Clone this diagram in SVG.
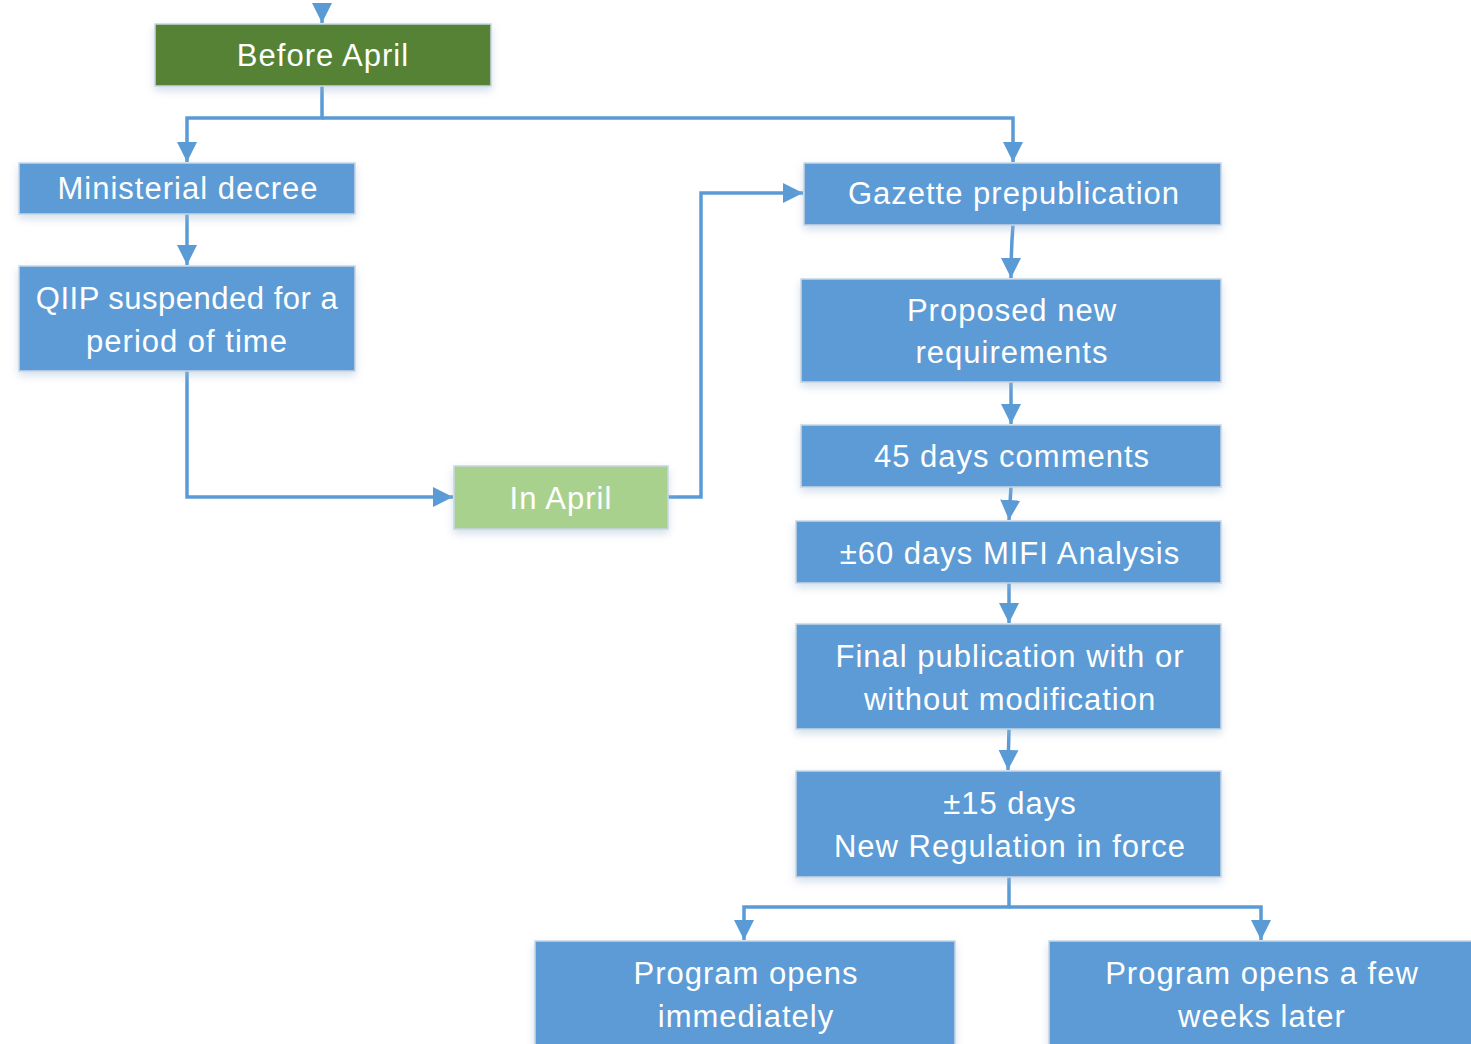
<svg xmlns="http://www.w3.org/2000/svg" width="1471" height="1044" viewBox="0 0 1471 1044">
<defs>
<filter id="sh" x="-10%" y="-20%" width="120%" height="150%">
<feDropShadow dx="0" dy="4" stdDeviation="4" flood-color="#9fb8d6" flood-opacity="0.45"/>
</filter>
<marker id="ah" markerUnits="userSpaceOnUse" markerWidth="22" markerHeight="22" viewBox="0 0 22 22" refX="20" refY="11" orient="auto">
<path d="M0,1 L20,11 L0,21 Z" fill="#5B9BD5"/>
</marker>
</defs>
<style>
.n{fill:#5B9BD5;stroke:#c9d6e3;stroke-width:1.5;filter:url(#sh)}
.g{fill:#548235;stroke:#c9d6e3;stroke-width:1.5;filter:url(#sh)}
.lg{fill:#A9D18E;stroke:#c9d6e3;stroke-width:1.5;filter:url(#sh)}
.t{font-family:"Liberation Sans",Arial,sans-serif;font-size:31px;letter-spacing:1px;fill:#ffffff;text-anchor:middle;dominant-baseline:central}
.c{fill:none;stroke:#5B9BD5;stroke-width:3.5}
</style>
<rect width="1471" height="1044" fill="#ffffff"/>
<g id="connectors">
<path class="c" d="M322,4 L322,23" marker-end="url(#ah)"/>
<path class="c" d="M322,86 L322,118 L187,118 L187,162" marker-end="url(#ah)"/>
<path class="c" d="M322,118 L1013,118 L1013,162" marker-end="url(#ah)"/>
<path class="c" d="M187,214 L187,265" marker-end="url(#ah)"/>
<path class="c" d="M187,371 L187,497 L453,497" marker-end="url(#ah)"/>
<path class="c" d="M668,497 L701,497 L701,193 L803,193" marker-end="url(#ah)"/>
<path class="c" d="M1013,225 Q1011,250 1011,278" marker-end="url(#ah)"/>
<path class="c" d="M1011,382 L1011,424" marker-end="url(#ah)"/>
<path class="c" d="M1011,487 L1009,520" marker-end="url(#ah)"/>
<path class="c" d="M1009,583 L1009,623" marker-end="url(#ah)"/>
<path class="c" d="M1009,729 L1008,770" marker-end="url(#ah)"/>
<path class="c" d="M1009,877 L1009,907 L744,907 L744,940" marker-end="url(#ah)"/>
<path class="c" d="M1009,907 L1261,907 L1261,940" marker-end="url(#ah)"/>
</g>
<g id="before-april"><rect class="g" x="155" y="24" width="336" height="62"/><text class="t" x="323" y="55">Before April</text></g>
<g id="ministerial-decree"><rect class="n" x="19" y="163" width="336" height="51"/><text class="t" x="188" y="188">Ministerial decree</text></g>
<g id="qiip"><rect class="n" x="19" y="266" width="336" height="105"/><text class="t" x="187" y="298" style="letter-spacing:0.5px">QIIP suspended for a</text><text class="t" x="187" y="341">period of time</text></g>
<g id="in-april"><rect class="lg" x="454" y="466" width="214" height="63"/><text class="t" x="561" y="498">In April</text></g>
<g id="gazette"><rect class="n" x="804" y="163" width="417" height="62"/><text class="t" x="1014" y="193">Gazette prepublication</text></g>
<g id="proposed"><rect class="n" x="801" y="279" width="420" height="103"/><text class="t" x="1012" y="310">Proposed new</text><text class="t" x="1012" y="352">requirements</text></g>
<g id="comments"><rect class="n" x="801" y="425" width="420" height="62"/><text class="t" x="1012" y="456">45 days comments</text></g>
<g id="analysis"><rect class="n" x="796" y="521" width="425" height="62"/><text class="t" x="1010" y="553">±60 days MIFI Analysis</text></g>
<g id="final"><rect class="n" x="796" y="624" width="425" height="105"/><text class="t" x="1010" y="656">Final publication with or</text><text class="t" x="1010" y="699">without modification</text></g>
<g id="in-force"><rect class="n" x="796" y="771" width="425" height="106"/><text class="t" x="1010" y="803">±15 days</text><text class="t" x="1010" y="846">New Regulation in force</text></g>
<g id="opens-immediately"><rect class="n" x="535" y="941" width="420" height="110"/><text class="t" x="746" y="973">Program opens</text><text class="t" x="746" y="1016">immediately</text></g>
<g id="opens-later"><rect class="n" x="1049" y="941" width="428" height="110"/><text class="t" x="1262" y="973">Program opens a few</text><text class="t" x="1262" y="1016">weeks later</text></g>
</svg>
